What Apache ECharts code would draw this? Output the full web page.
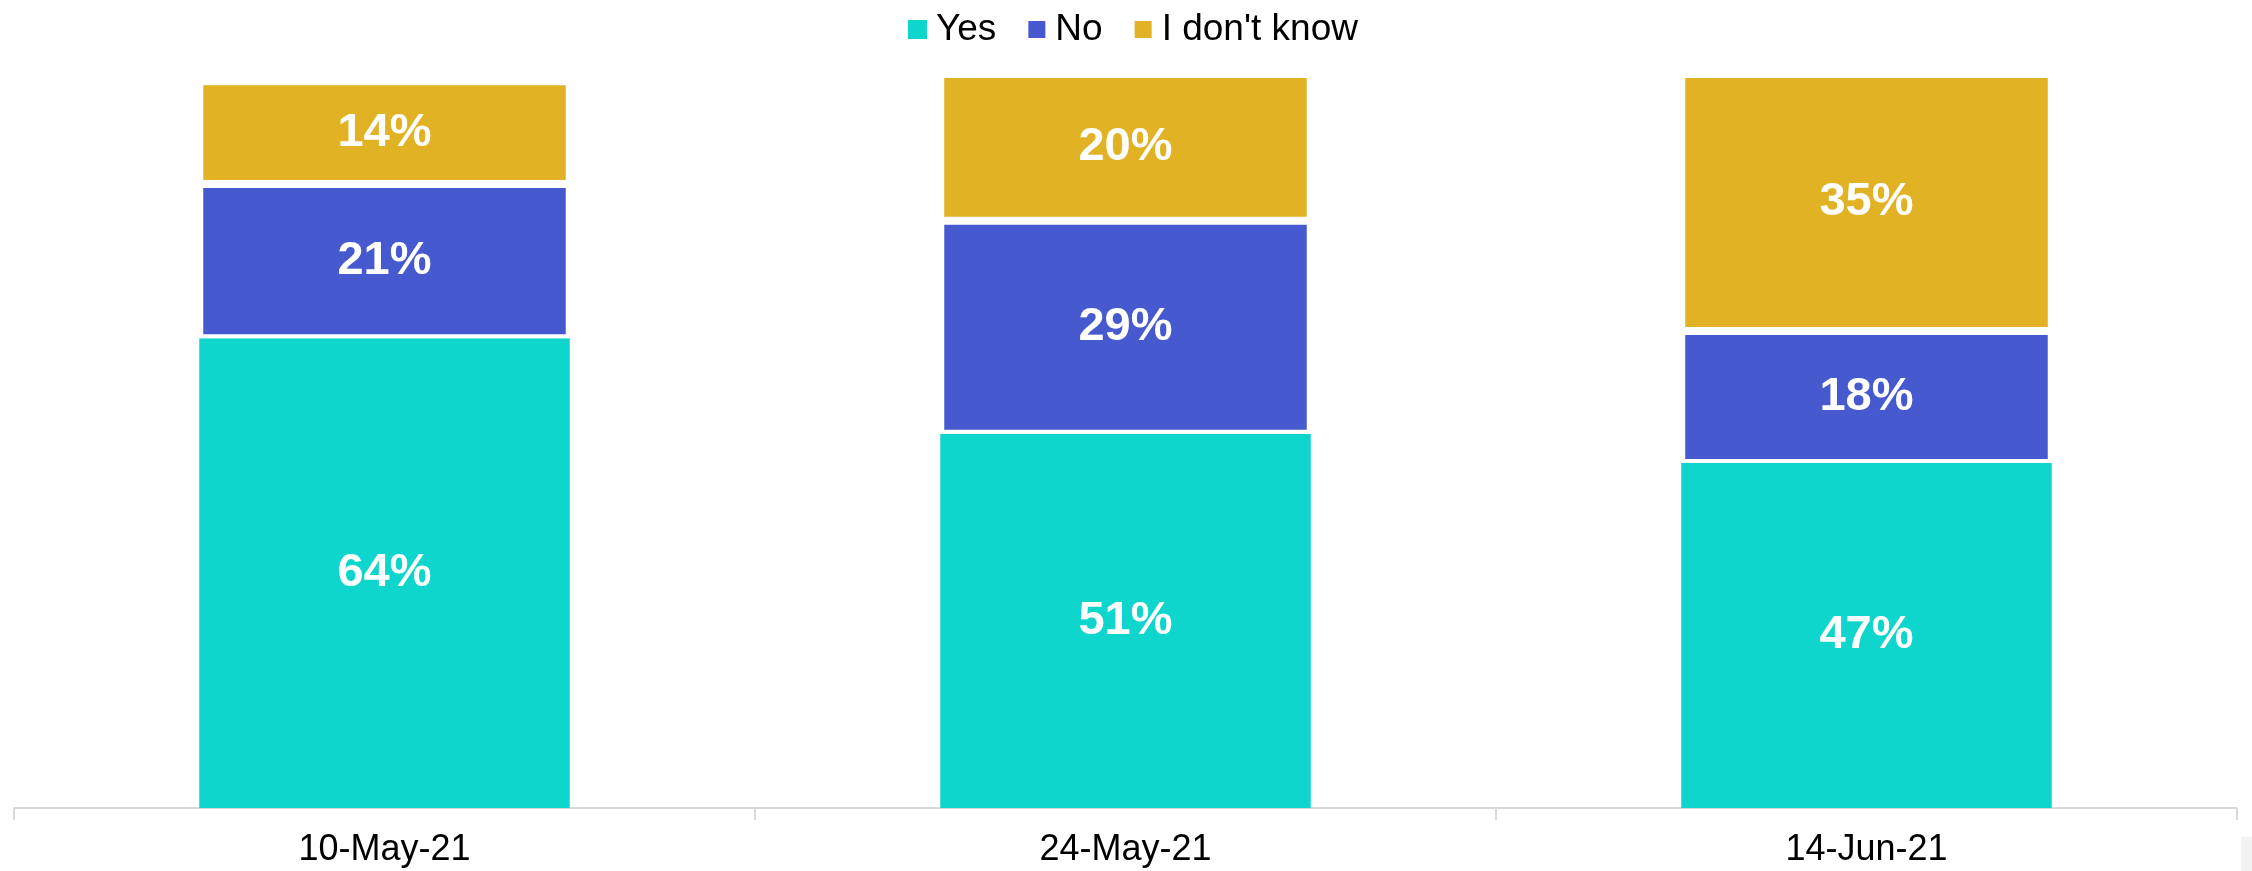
<!DOCTYPE html>
<html>
<head>
<meta charset="utf-8">
<script src="https://cdn.jsdelivr.net/npm/echarts@6/dist/echarts.min.js"></script>
<style>
  html, body { margin: 0; padding: 0; background: #ffffff; }
  #chart { width: 2252px; height: 871px; }
</style>
</head>
<body>
<div id="chart"></div>
<script>
// Survey dates and answer shares (%)
const categories = ['10-May-21', '24-May-21', '14-Jun-21'];
const seriesNames = ['Yes', 'No', "I don't know"];
const yesValues = [64, 51, 47];
const noValues = [21, 29, 18];
const dontKnowValues = [14, 20, 35];

const colors = ['#0ED6CC', '#4759CE', '#E1B224'];
const fontFamily = '"Liberation Sans", Arial, Helvetica, sans-serif';

const chart = echarts.init(document.getElementById('chart'), null, { renderer: 'canvas' });

function makeSeries(name, values, color, borderWidth) {
  return {
    name: name,
    type: 'bar',
    stack: 'total',
    data: values,
    barWidth: '50%',
    itemStyle: { color: color, borderColor: '#ffffff', borderWidth: borderWidth },
    label: {
      show: true,
      position: 'inside',
      formatter: p => p.value + '%',
      color: '#ffffff',
      fontFamily: fontFamily,
      fontWeight: 'bold',
      fontSize: 47
    },
    emphasis: { disabled: true }
  };
}

chart.setOption({
  animation: false,
  backgroundColor: '#ffffff',
  color: colors,
  legend: {
    data: seriesNames,
    top: 6,
    left: 903,
    icon: 'rect',
    itemWidth: 19,
    itemHeight: 19,
    itemGap: 30,
    textStyle: { fontFamily: fontFamily, fontSize: 37, color: '#000000', padding: [0, 0, 0, 4] }
  },
  grid: { left: 14, right: 15, top: 74, bottom: 63, containLabel: false },
  xAxis: {
    type: 'category',
    data: categories,
    boundaryGap: true,
    axisLine: { show: true, lineStyle: { color: '#d9d9d9', width: 2 } },
    axisTick: { show: true, length: 12, lineStyle: { color: '#d9d9d9', width: 2 } },
    axisLabel: { fontFamily: fontFamily, fontSize: 36, color: '#000000', margin: 24 }
  },
  yAxis: {
    type: 'value',
    min: 0,
    max: 100,
    interval: 20,
    show: false,
    splitLine: { show: false }
  },
  graphic: [{
    type: 'rect',
    right: 0,
    bottom: 0,
    shape: { width: 11, height: 34 },
    style: { fill: '#f2f2f2' },
    silent: true
  }],
  series: [
    makeSeries(seriesNames[0], yesValues, colors[0], 0),
    makeSeries(seriesNames[1], noValues, colors[1], 4),
    makeSeries(seriesNames[2], dontKnowValues, colors[2], 4)
  ]
});
</script>
</body>
</html>
